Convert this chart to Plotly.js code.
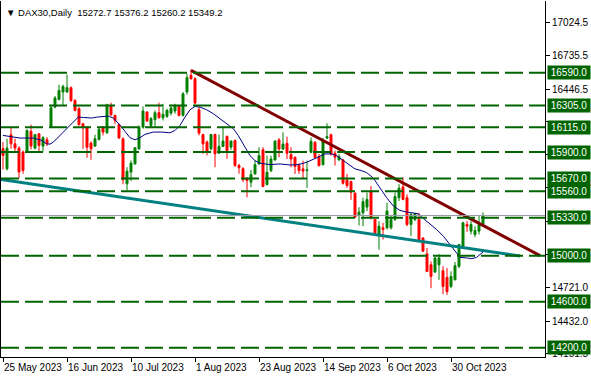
<!DOCTYPE html>
<html>
<head>
<meta charset="utf-8">
<script src="https://cdn.plot.ly/plotly-3.0.1.min.js"></script>
<style>
  html, body { margin: 0; padding: 0; background: #ffffff; }
  #chart { width: 591px; height: 378px; }
</style>
</head>
<body>
<div id="chart"></div>
<script>
// ---------------- DATA ----------------
const symbolTitle = "DAX30,Daily";
const firstDate = "2023-05-25";
const barCount = 121;

const openP = [15929,15755,16051,15972,15935,15900,15900,16080,15935,16059,15952,16007,16117,16291,16358,16422,16422,16460,16349,16277,16146,16117,15978,15952,16010,16117,16068,16300,16219,16138,
  16015,15624,15726,15798,15929,16117,16248,16132,16181,16242,16199,16210,16239,16257,16297,16219,16422,16567,16538,16268,16053,15987,15929,16053,15891,15949,16036,15943,16001,15784,
  15755,15667,15638,15710,15797,15920,15618,15739,15832,16005,15927,15976,15878,15855,15783,15754,15739,15898,15985,15861,15791,16022,16051,15890,15832,15832,15658,15644,15543,15349,
  15373,15422,15562,15315,15184,15242,15242,15242,15315,15504,15597,15504,15271,15315,15315,15154,15015,14921,14857,14921,14869,14811,14732,14790,14907,15082,15271,15213,15184,15213,15272.7];
const highP = [15987,16016,16109,16016,15950,15914,16097,16138,16059,16065,16039,16030,16300,16387,16486,16486,16573,16470,16360,16291,16155,16125,15993,16051,16117,16125,16320,16329,16225,16146,
  16030,15769,15827,15943,16132,16297,16255,16204,16262,16329,16320,16277,16297,16320,16306,16422,16581,16616,16552,16291,16059,16001,16059,16060,16053,16117,16045,16001,16007,15798,
  15769,15681,15745,15826,15942,15942,15869,15869,16005,16022,16072,16034,15942,15862,15803,15826,15826,16028,15994,15884,16022,16150,16060,15913,15884,15840,15710,15652,15550,15421,
  15504,15548,15606,15322,15300,15286,15460,15344,15548,15621,15679,15533,15373,15373,15373,15160,15067,14950,14988,15015,14907,14892,14863,14945,15102,15294,15300,15300,15256,15344,15376.2];
const lowP = [15749,15740,15929,15906,15676,15711,15894,15923,15923,15906,15906,15952,16110,16280,16349,16306,16416,16335,16254,16132,15929,15851,15833,15945,16001,16045,16059,16213,16146,16016,
  15620,15566,15648,15790,15920,16103,16161,16112,16117,16190,16175,16199,16219,16233,16210,16210,16401,16529,16314,16045,15885,15871,15914,15769,15885,15943,15842,15920,15769,15711,
  15640,15508,15595,15705,15790,15595,15609,15725,15825,15855,15918,15840,15768,15710,15710,15667,15589,15890,15840,15774,15783,16014,15869,15783,15826,15618,15589,15485,15329,15262,
  15256,15388,15315,15184,15052,15140,15227,15227,15300,15475,15481,15256,15169,15300,15135,15032,14857,14717,14849,14790,14665,14659,14717,14785,14892,15073,15207,15184,15160,15184,15260.2];
const closeP = [15871,15935,15972,15935,15726,15740,16088,15952,16051,15958,16025,15972,16286,16370,16436,16471,16460,16349,16262,16138,16111,15943,15929,16016,16097,16074,16312,16225,16175,16022,
  15660,15734,15804,15938,16117,16257,16170,16190,16242,16199,16228,16262,16283,16306,16219,16407,16547,16538,16326,16065,15972,15900,16053,15885,15949,15996,15914,15996,15784,15764,
  15660,15653,15705,15791,15869,15601,15725,15840,15994,15927,15970,15890,15840,15774,15739,15734,15745,15994,15855,15783,15999,16034,15884,15855,15861,15629,15609,15551,15335,15378,
  15469,15489,15329,15198,15256,15227,15388,15315,15513,15586,15489,15271,15358,15364,15140,15038,14863,14819,14980,14980,14732,14688,14819,14913,15096,15286,15256,15271,15219,15271,15349.2];

// moving average (bar index, value)
const maBar = [0,4.25,7.6,9.7,10.9,11.75,12.6,13.8,15.5,16.75,18,18.8,20.1,22.2,23.4,25.1,26.3,27.6,28.6,29.7,30.5,31.75,33,34.25,35.5,37.6,39.7,41.75,43,44.25,45.5,46.75,48,49.25,50.9,52.6,54.25,55.9,57.6,58.8,60.5,61.75,63,64.25,66.75,69.25,71.75,73.8,75.9,77.2,79.25,80.5,82.2,83.4,85.1,86.75,88,89.5,90.9,92.6,94.25,95.9,97.6,99.25,100.9,102.6,103.8,105.1,106.75,108.4,110.1,111.75,113,114.25,115.9,117.2,118.4,120];
const maVal = [16045,16022,16022,16001,15972,15969,15987,16030,16088,16132,16175,16204,16201,16196,16204,16213,16213,16196,16161,16117,16080,16025,16007,16025,16054,16074,16074,16068,16088,16132,16204,16268,16297,16291,16268,16233,16190,16146,16103,16045,15950,15869,15826,15803,15791,15797,15788,15791,15811,15832,15869,15884,15884,15869,15826,15783,15754,15740,15722,15673,15591,15504,15431,15393,15379,15373,15364,15323,15277,15227,15169,15096,15032,14985,14980,14974,14985,15032];

// trend lines (bar index, price)
const resistanceBar = [47, 134.25];
const resistancePrice = [16610, 15000];
const supportBar = [-0.5, 129.25];
const supportPrice = [15662, 14997];

// horizontal levels
const levels = [16590, 16305, 16115, 15900, 15670, 15560, 15330, 15000, 14600, 14200];

// right axis ticks (labels hidden behind level boxes are left blank)
const priceTicks = [17024.5, 16735.5, 16446.5, 16166.0, 15877.0, 15588.0, 15299.0, 15010.0, 14721.0, 14432.0, 14151.5];
const priceTickShown = [true, true, true, false, false, false, false, false, true, true, true];

// bottom axis labels
const dateTickDates = ["2023-05-25","2023-06-16","2023-07-10","2023-08-01","2023-08-23","2023-09-14","2023-10-06","2023-10-30"];
const dateTickLabels = ["25 May 2023","16 Jun 2023","10 Jul 2023","1 Aug 2023","23 Aug 2023","14 Sep 2023","6 Oct 2023","30 Oct 2023"];

// ---------------- BUILD ----------------
const dates = [];
{
  const d = new Date(firstDate + "T12:00:00Z");
  while (dates.length < barCount) {
    const wd = d.getUTCDay();
    if (wd !== 0 && wd !== 6) dates.push(d.toISOString().slice(0, 10));
    d.setUTCDate(d.getUTCDate() + 1);
  }
}
const barIdx = dates.map((_, i) => i);
const tickIdx = dateTickDates.map(s => dates.indexOf(s));

const FONT = "Liberation Sans, Arial, sans-serif";
const LEVEL_GREEN = "#006400";

const traces = [
  {
    type: "candlestick",
    x: barIdx, open: openP, high: highP, low: lowP, close: closeP,
    increasing: { line: { color: "#008000", width: 1 }, fillcolor: "#008000" },
    decreasing: { line: { color: "#ff0000", width: 1 }, fillcolor: "#ff0000" },
    whiskerwidth: 0,
    hoverinfo: "skip",
    showlegend: false
  },
  {
    type: "scatter", mode: "lines",
    x: maBar, y: maVal,
    line: { color: "#000080", width: 1 },
    hoverinfo: "skip", showlegend: false
  },
  {
    type: "scatter", mode: "lines",
    x: supportBar, y: supportPrice,
    line: { color: "#008080", width: 3 },
    hoverinfo: "skip", showlegend: false
  },
  {
    type: "scatter", mode: "lines",
    x: resistanceBar, y: resistancePrice,
    line: { color: "#800000", width: 3 },
    hoverinfo: "skip", showlegend: false
  }
];

const shapes = levels.map(v => ({
  type: "line", xref: "paper", yref: "y",
  x0: 0, x1: 1, y0: v, y1: v,
  line: { color: LEVEL_GREEN, width: 2, dash: "18px,6px" },
  layer: "above"
}));
shapes.push({
  type: "line", xref: "paper", yref: "y",
  x0: 0, x1: 1, y0: closeP[closeP.length - 1], y1: closeP[closeP.length - 1],
  line: { color: "#9a9aa8", width: 1 }, layer: "above"
});

const annotations = levels.map(v => ({
  xref: "paper", yref: "y", x: 1, y: v,
  xanchor: "left", yanchor: "middle", xshift: 2,
  text: v.toFixed(1), showarrow: false,
  bgcolor: LEVEL_GREEN, width: 40, height: 11, borderpad: 1,
  font: { family: FONT, size: 10, color: "#ffffff" }
}));
annotations.push({
  xref: "paper", yref: "paper", x: 0, y: 1,
  xanchor: "left", yanchor: "top", xshift: 3, yshift: -4,
  text: "▼ " + symbolTitle + "  " + [openP, highP, lowP, closeP].map(a => a[a.length - 1].toFixed(1)).join(" "),
  showarrow: false,
  font: { family: FONT, size: 9.5, color: "#000000" }
});
// bottom date labels, left-aligned at their tick like the terminal draws them
tickIdx.forEach((ix, k) => {
  annotations.push({
    xref: "x", yref: "paper", x: ix, y: 0,
    xanchor: "left", yanchor: "top", xshift: -1, yshift: -3,
    text: dateTickLabels[k], showarrow: false,
    font: { family: FONT, size: 10, color: "#000000" }
  });
});

const layout = {
  width: 591, height: 378,
  margin: { l: 1, r: 46, t: 1, b: 21 },
  paper_bgcolor: "#ffffff", plot_bgcolor: "#ffffff",
  showlegend: false,
  dragmode: false,
  xaxis: {
    type: "linear",
    range: [-0.5, 135.5],
    showgrid: false, zeroline: false,
    showline: true, linecolor: "#000000", linewidth: 1,
    ticks: "outside", ticklen: 4, tickcolor: "#000000",
    tickvals: tickIdx, ticktext: tickIdx.map(() => ""),
    showticklabels: true,
    rangeslider: { visible: false },
    fixedrange: true
  },
  yaxis: {
    side: "right",
    range: [14119.1, 17213.2],
    showgrid: false, zeroline: false,
    showline: true, linecolor: "#000000", linewidth: 1, mirror: true,
    ticks: "outside", ticklen: 4, tickcolor: "#000000",
    tickvals: priceTicks, ticktext: priceTicks.map((v, k) => priceTickShown[k] ? v.toFixed(1) : ""),
    tickfont: { family: FONT, size: 10, color: "#000000" },
    fixedrange: true
  },
  shapes: shapes,
  annotations: annotations
};

Plotly.newPlot("chart", traces, layout, { displayModeBar: false, staticPlot: true });
</script>
</body>
</html>
